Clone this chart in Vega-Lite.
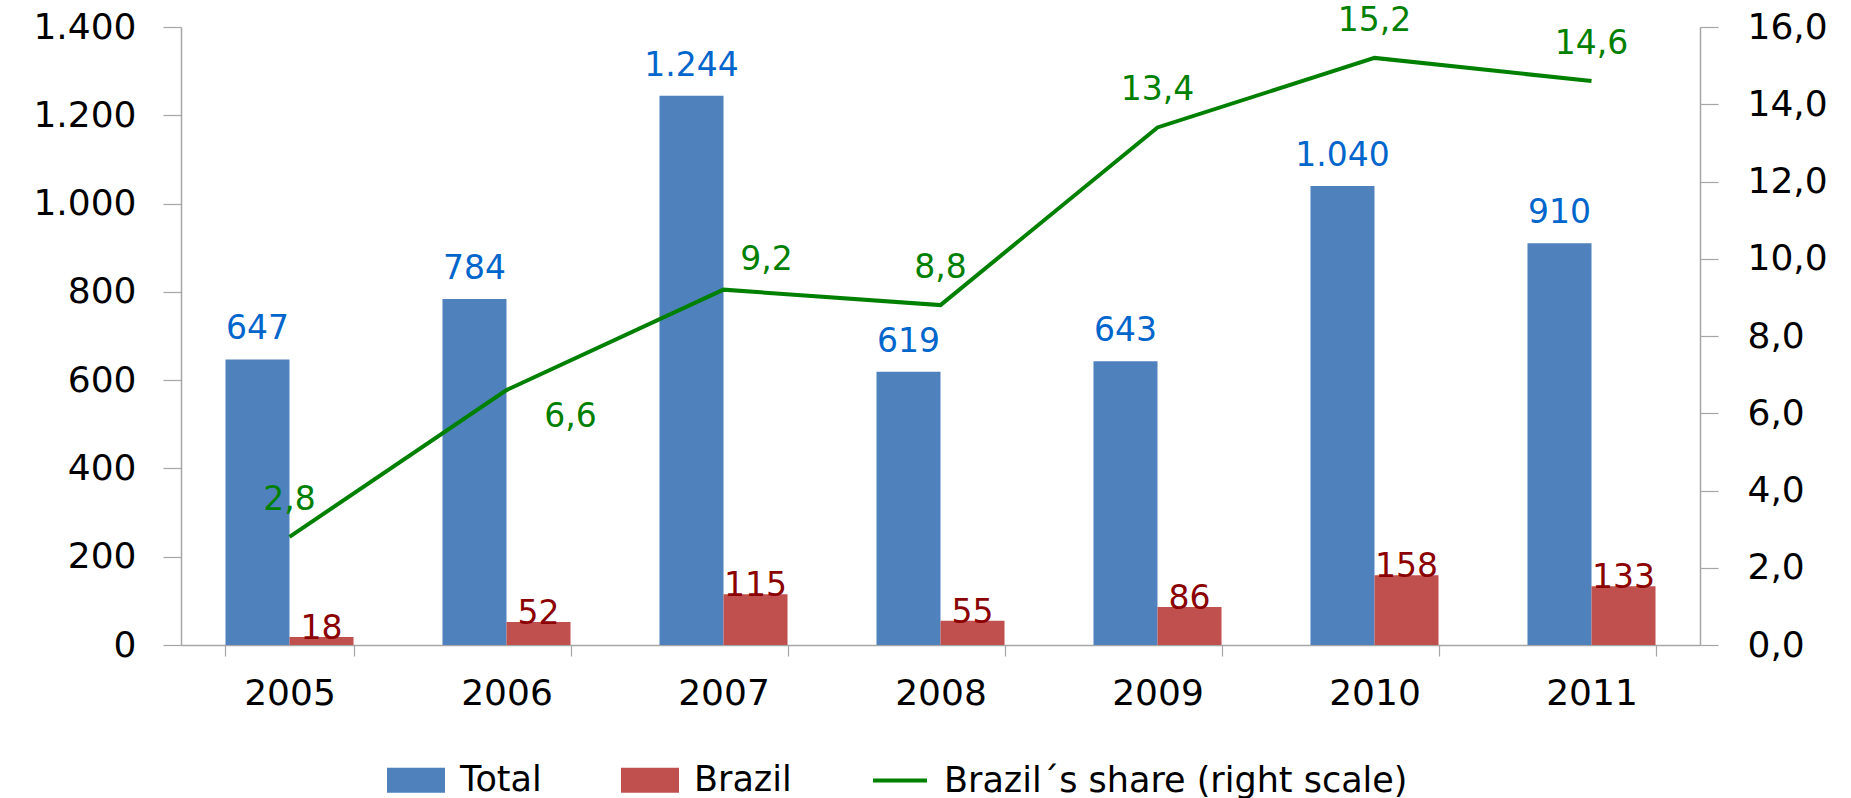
{
  "$schema": "https://vega.github.io/schema/vega-lite/v6.json",
  "width": 1519,
  "height": 618,
  "autosize": {"type": "none"},
  "padding": {"left": 181, "top": 27, "right": 151, "bottom": 153},
  "background": "white",
  "config": {
    "locale": {"number": {"decimal": ",", "thousands": ".", "grouping": [3], "currency": ["", ""]}},
    "font": "DejaVu Sans",
    "view": {"stroke": null},
    "axis": {"labelFont": "DejaVu Sans", "labelFontSize": 36, "labelColor": "#000000", "domainColor": "#a6a6a6", "tickColor": "#a6a6a6", "domainWidth": 1.5, "tickWidth": 1.2, "grid": false, "title": null}
  },
  "datasets": {
    "bars": [
      {"year": "2005", "series": "Total", "value": 647},
      {"year": "2005", "series": "Brazil", "value": 18},
      {"year": "2006", "series": "Total", "value": 784},
      {"year": "2006", "series": "Brazil", "value": 52},
      {"year": "2007", "series": "Total", "value": 1244},
      {"year": "2007", "series": "Brazil", "value": 115},
      {"year": "2008", "series": "Total", "value": 619},
      {"year": "2008", "series": "Brazil", "value": 55},
      {"year": "2009", "series": "Total", "value": 643},
      {"year": "2009", "series": "Brazil", "value": 86},
      {"year": "2010", "series": "Total", "value": 1040},
      {"year": "2010", "series": "Brazil", "value": 158},
      {"year": "2011", "series": "Total", "value": 910},
      {"year": "2011", "series": "Brazil", "value": 133}
    ],
    "share": [
      {"year": "2005", "share": 2.8},
      {"year": "2006", "share": 6.6},
      {"year": "2007", "share": 9.2},
      {"year": "2008", "share": 8.8},
      {"year": "2009", "share": 13.4},
      {"year": "2010", "share": 15.2},
      {"year": "2011", "share": 14.6}
    ]
  },
  "layer": [
    {
      "data": {"name": "bars"},
      "encoding": {
        "x": {
          "field": "year", "type": "nominal",
          "scale": {"paddingInner": 0.41, "paddingOuter": 0.205},
          "axis": {"labelAngle": 0, "tickBand": "extent", "tickSize": 11, "labelPadding": 20}
        },
        "xOffset": {"field": "series", "type": "nominal", "scale": {"domain": ["Total", "Brazil"], "paddingInner": 0, "paddingOuter": 0}},
        "y": {
          "field": "value", "type": "quantitative",
          "scale": {"domain": [0, 1400], "nice": false},
          "axis": {"orient": "left", "values": [0, 200, 400, 600, 800, 1000, 1200, 1400], "format": ",.0f", "tickSize": 18, "labelPadding": 27}
        }
      },
      "layer": [
        {
          "mark": {"type": "bar"},
          "encoding": {
            "color": {
              "field": "series", "type": "nominal",
              "scale": {"domain": ["Total", "Brazil", "Brazil´s share (right scale)"], "range": ["#4F81BD", "#C0504D", "#008000"]},
              "legend": {
                "orient": "none", "legendX": 206, "legendY": 724, "direction": "horizontal", "title": null,
                "labelFont": "DejaVu Sans", "labelFontSize": 35, "labelColor": "#000000", "labelLimit": 2000,
                "symbolSize": 2916, "labelOffset": 15, "columnPadding": 73,
                "encode": {
                  "symbols": {
                    "update": {
                      "shape": {"signal": "datum.value === 'Brazil´s share (right scale)' ? 'M-1,0H1' : 'M-1,-0.39H1V0.39H-1Z'"},
                      "fill": {"signal": "datum.value === 'Brazil´s share (right scale)' ? 'transparent' : scale('color', datum.value)"},
                      "stroke": {"signal": "datum.value === 'Brazil´s share (right scale)' ? '#008000' : 'transparent'"},
                      "strokeWidth": {"value": 4},
                      "opacity": {"value": 1}
                    }
                  }
                }
              }
            }
          }
        },
        {
          "transform": [{"filter": "datum.series === 'Total'"}],
          "mark": {"type": "text", "color": "#0066CC", "fontSize": 33, "baseline": "middle", "dy": -30},
          "encoding": {"text": {"field": "value", "type": "quantitative", "format": ",.0f"}}
        },
        {
          "transform": [{"filter": "datum.series === 'Brazil'"}],
          "mark": {"type": "text", "color": "#8B0000", "fontSize": 33, "baseline": "middle", "dy": -8},
          "encoding": {"text": {"field": "value", "type": "quantitative", "format": ",.0f"}}
        }
      ]
    },
    {
      "data": {"name": "share"},
      "encoding": {
        "x": {"field": "year", "type": "nominal"},
        "y": {
          "field": "share", "type": "quantitative",
          "scale": {"domain": [0, 16], "nice": false},
          "axis": {"orient": "right", "values": [0, 2, 4, 6, 8, 10, 12, 14, 16], "format": ".1f", "tickSize": 18, "labelPadding": 29}
        }
      },
      "layer": [
        {
          "mark": {"type": "line", "strokeWidth": 4},
          "encoding": {"color": {"datum": "Brazil´s share (right scale)", "type": "nominal"}}
        },
        {
          "transform": [{"filter": "datum.year !== '2006' && datum.year !== '2007'"}],
          "mark": {"type": "text", "color": "#008000", "fontSize": 33, "baseline": "middle", "dy": -37},
          "encoding": {"text": {"field": "share", "type": "quantitative", "format": ".1f"}}
        },
        {
          "transform": [{"filter": "datum.year === '2006'"}],
          "mark": {"type": "text", "color": "#008000", "fontSize": 33, "baseline": "middle", "dx": 64, "dy": 27},
          "encoding": {"text": {"field": "share", "type": "quantitative", "format": ".1f"}}
        },
        {
          "transform": [{"filter": "datum.year === '2007'"}],
          "mark": {"type": "text", "color": "#008000", "fontSize": 33, "baseline": "middle", "dx": 43, "dy": -30},
          "encoding": {"text": {"field": "share", "type": "quantitative", "format": ".1f"}}
        }
      ]
    }
  ],
  "resolve": {"scale": {"y": "independent"}}
}
